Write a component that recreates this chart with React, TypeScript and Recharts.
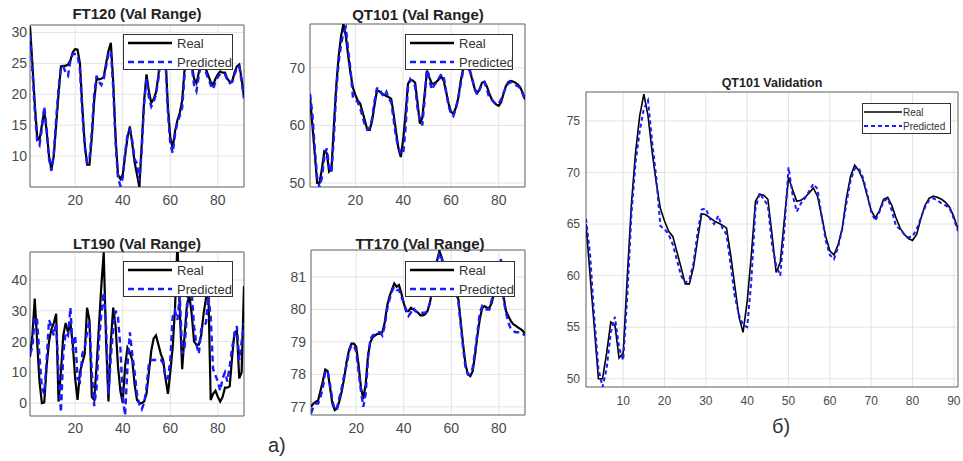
import React from 'react';
import { LineChart, Line, XAxis, YAxis, CartesianGrid, ReferenceArea } from 'recharts';

// sample index 1..91
const steps = Array.from({ length: 91 }, (_, i) => i + 1);

const ft120Real = [
  31, 25, 18.5, 13.2, 12.6, 15, 17.3, 14, 10, 7.8,
  10, 15, 20, 24.5, 24.6, 24.6, 24.8, 25.5, 26.8, 27.3,
  27.2, 25, 18, 12, 8.6, 8.6, 13, 19, 22.5, 22.4,
  22.5, 22.8, 25, 27, 28.3, 22, 13, 7, 6.3, 7,
  10, 13, 14.8, 12, 9, 7, 5, 12, 19, 23.2,
  20.5, 18.6, 19.2, 20.3, 23, 27, 29, 26, 18, 13,
  11.3, 14, 15.8, 17, 19, 24, 27, 27.5, 25, 22.5,
  21.8, 23.5, 25.5, 25, 24, 23, 22, 21.5, 22.5, 23.2,
  23.7, 23.5, 23.5, 22.5, 22, 22, 23.5, 24.5, 24.8, 22.5, 19.5,
];
const ft120Pred = [
  29.5, 24, 17.5, 12.5, 11.8, 14.5, 18, 14.5, 9.5, 7.6,
  10.5, 16, 21, 24.3, 24.5, 23.5, 23, 25.5, 26.5, 26.5,
  26.3, 24, 17, 11.5, 9, 9.5, 14, 20, 23, 22,
  21.5, 22.5, 24.5, 26.5, 27, 21, 12, 6.5, 5.2, 6.5,
  10.5, 13.5, 14.2, 12.5, 9.5, 8.8, 6, 11, 18.5, 22.5,
  19.5, 18, 18.8, 20, 22.5, 26, 28, 25, 17, 12,
  10.5, 13.5, 15.5, 16.5, 17.8, 23, 26.5, 27, 24.5, 21.5,
  20.5, 23, 25, 24.8, 23.5, 22.5, 21.5, 20.8, 22, 22.8,
  23.3, 23.3, 23.2, 22.3, 21.8, 22, 23.2, 24.2, 24.5, 22, 19.3,
];

const qt101Real = [
  65, 60, 55, 50, 50, 52.5, 55.5, 55.2, 52, 52.5,
  60, 67, 72, 75.5, 77.6, 75.5, 72, 69, 66.5, 65.3,
  64.3, 63.8, 62.3, 60.8, 59.2, 59.2, 60.8, 63.5, 66, 65.9,
  65.6, 65.3, 65.1, 64.9, 64.6, 62, 59, 56, 54.5, 57.5,
  62, 67.2, 67.9, 67.8, 67.4, 64, 60.3, 61.3, 65.5, 69.5,
  68.3, 67.2, 67.3, 67.6, 68, 68.5, 67.7, 65.8, 63.8, 62.4,
  62, 63, 64.6, 67.5, 69.6, 70.7, 70.2, 69.3, 67.8, 66.3,
  65.6, 66.3, 67.4, 67.6, 66.8, 65.6, 64.6, 64, 63.6, 63.4,
  64, 65.5, 66.8, 67.5, 67.7, 67.6, 67.4, 67.1, 66.6, 65.7, 64.5,
];
const qt101Pred = [
  65.5, 62, 56, 51, 49.2, 51, 54.5, 56, 53, 51.8,
  58, 66, 71, 74, 76.2, 77, 73, 69.5, 64.8, 64.5,
  64, 63, 61.5, 60, 59.3, 59.6, 61.2, 64.2, 66.4, 66.5,
  65.5, 65, 65.8, 64.6, 64, 61, 58, 56.2, 55.2, 55,
  59.5, 66.5, 68, 67.4, 66.8, 63, 61, 60, 64.5, 70.5,
  67.8, 66.2, 67, 67.5, 68.2, 68.9, 68.4, 65.8, 63.4, 62,
  61.6, 62.8, 64.5, 67, 69.2, 70.4, 70.4, 69.5, 68, 66.2,
  65.3, 66.2, 67.2, 67.5, 66.3, 64.8, 64.5, 64, 63.7, 63.8,
  64.5, 65.6, 66.6, 67.3, 67.5, 67.3, 67, 66.8, 66.5, 65.5, 64.3,
];

const lt190Real = [
  15, 22, 34, 20, 7, 0, 0.2, 12, 20, 24,
  26, 29, 0.5, 10, 22, 26, 23, 26, 19, 8,
  1, 10, 13, 16, 31, 27, 2, 1, 12, 25,
  38, 49, 20, 0.5, 20, 31, 25, 12, 4, 0,
  12, 18, 16.5, 14, 6, 1, 0, 0, 0.5, 3,
  10, 17, 21, 22, 19, 16, 14, 8, 3, 10,
  18, 31, 52, 30, 11, 22, 32, 35, 29, 20,
  19, 19, 22, 29, 34, 37, 1, 3, 4, 2,
  0.5, 2, 5, 5, 5.5, 15, 23, 23.5, 8, 10, 38,
];
const lt190Pred = [
  16, 18, 28, 27, 15, 5, 3, 14, 27, 25,
  22, 26, 10, -3, 16, 23, 22, 31, 17, 22,
  8, 7, 16, 18, 23, 27, 10, -1, 5, 20,
  29, 36, 25, 3, 15, 24, 30, 28, 18, 2,
  -4, 12, 23, 16, 10, 3, -0.5, -2, 0, 5,
  13, 14, 14, 14, 14, 14, 13, 8, 8, 14,
  28, 30, 27, 35, 16, 18, 29, 46, 36, 25,
  19, 16, 24, 25, 26, 35, 28, 11, 9, 7,
  4, 8, 10, 7, 12, 18, 22, 25, 14, 20, 26,
];

const tt170Real = [
  77.0, 77.1, 77.15, 77.2, 77.5, 77.8, 78.15, 78.1, 77.6, 77.1,
  76.9, 76.95, 77.2, 77.5, 77.9, 78.4, 78.75, 78.95, 78.95, 78.85,
  78.3, 77.6, 77.25, 77.7, 78.6, 79.0, 79.15, 79.2, 79.25, 79.25,
  79.3, 79.6, 80.1, 80.4, 80.6, 80.8, 80.7, 80.75, 80.5, 80.2,
  79.95, 79.95, 80.05, 80.0, 79.95, 79.9, 79.82, 79.82, 79.85, 79.95,
  80.2, 80.6, 81.1, 81.5, 81.8, 81.6, 81.3, 81.1, 81.0, 80.9,
  80.8, 80.6, 80.3, 79.6, 78.9, 78.3, 78.0, 77.95, 78.1, 78.6,
  79.2, 79.7, 80.05, 80.1, 80.05, 80.05, 80.2, 80.5, 80.9, 81.3,
  81.5, 80.4, 79.95, 79.8, 79.65, 79.55, 79.5, 79.45, 79.4, 79.35, 79.25,
];
const tt170Pred = [
  76.8, 77.0, 77.1, 77.1, 77.3, 77.6, 78.1, 78.1, 77.7, 77.2,
  76.9, 77.0, 77.3, 77.6, 78.0, 78.3, 78.7, 78.9, 78.9, 78.7,
  78.1, 77.5, 77.0, 77.4, 78.5, 79.1, 79.2, 79.25, 79.3, 79.3,
  79.2, 79.5, 80.0, 80.3, 80.55, 80.7, 80.6, 80.6, 80.4, 80.2,
  80.0, 79.8, 79.9, 80.05, 79.95, 79.9, 79.9, 79.9, 79.9, 79.95,
  80.2, 80.6, 81.0, 81.4, 81.75, 81.55, 81.25, 81.05, 80.95, 80.85,
  80.75, 80.55, 80.2, 79.5, 78.8, 78.2, 78.0, 78.0, 78.2, 78.7,
  79.3, 79.9, 80.1, 80.0, 80.0, 80.0, 80.3, 80.6, 81.0, 81.35,
  81.55, 80.3, 79.9, 79.6, 79.4, 79.35, 79.3, 79.3, 79.3, 79.25, 79.2,
];

const smallXTicks = [20, 40, 60, 80];
const bigXTicks = [10, 20, 30, 40, 50, 60, 70, 80, 90];
const ft120YTicks = [10, 15, 20, 25, 30];
const qt101SmallYTicks = [50, 60, 70];
const lt190YTicks = [0, 10, 20, 30, 40];
const tt170YTicks = [77, 78, 79, 80, 81];
const qt101BigYTicks = [50, 55, 60, 65, 70, 75];

const rows = (real: number[], pred: number[]) =>
  steps.map((x, i) => ({ x, real: real[i], pred: pred[i] }));

const FONT = '"Liberation Sans", Arial, sans-serif';
const TICK = '#4a4a4a';

type PanelProps = {
  left: number; top: number; width: number; height: number;
  mt: number; mr: number; yw: number; xh: number;
  xtm: number; ytm: number; fs: number;
  data: any[]; xTicks: number[]; yTicks: number[]; yDomain: [number, number];
  big?: boolean;
};

const Panel = (p: PanelProps) => (
  <div style={{ position: 'absolute', left: p.left, top: p.top }}>
    <LineChart width={p.width} height={p.height} data={p.data}
      margin={{ top: p.mt, right: p.mr, left: 0, bottom: 0 }}>
      <CartesianGrid stroke="#e3e3e3" />
      <XAxis dataKey="x" type="number" domain={[1, 91]} ticks={p.xTicks} allowDataOverflow
        height={p.xh} tickLine={false} axisLine={false} tickSize={0} tickMargin={p.xtm}
        tick={{ fill: TICK, fontSize: p.fs, fontFamily: FONT }} />
      <YAxis type="number" domain={p.yDomain} ticks={p.yTicks} allowDataOverflow
        width={p.yw} tickLine={false} axisLine={false} tickSize={0} tickMargin={p.ytm}
        tick={{ fill: TICK, fontSize: p.fs, fontFamily: FONT }} />
      <Line dataKey="real" stroke="#000" strokeWidth={p.big ? 1.6 : 2.2} dot={false}
        type="linear" isAnimationActive={false} />
      <Line dataKey="pred" stroke="#1a1aff" strokeWidth={p.big ? 2 : 2.4}
        strokeDasharray={p.big ? '4 3' : '6 4'} dot={false} type="linear" isAnimationActive={false} />
      <ReferenceArea x1={1} x2={91} y1={p.yDomain[0]} y2={p.yDomain[1]} fill="none"
        stroke="#6a6a6a" strokeWidth={1} ifOverflow="visible" />
    </LineChart>
  </div>
);

const Legend = ({ left, top, w, h, fs, line, r1, r2, tx, big }:
  { left: number; top: number; w: number; h: number; fs: number; line: [number, number]; r1: number; r2: number; tx: number; big?: boolean }) => (
  <svg style={{ position: 'absolute', left, top }} width={w} height={h}>
    <rect x={0.5} y={0.5} width={w - 1} height={h - 1} fill="#fff" stroke="#333" strokeWidth={1} />
    <line x1={line[0]} x2={line[1]} y1={r1} y2={r1} stroke="#000" strokeWidth={big ? 1.6 : 2.4} />
    <line x1={line[0]} x2={line[1]} y1={r2} y2={r2} stroke="#1a1aff" strokeWidth={big ? 2 : 2.4}
      strokeDasharray={big ? '4 3' : '6 4'} />
    <text x={tx} y={r1} dy="0.35em" fontSize={fs} fontFamily={FONT} fill="#333">Real</text>
    <text x={tx} y={r2} dy="0.35em" fontSize={fs} fontFamily={FONT} fill="#333">Predicted</text>
  </svg>
);

const Title = ({ cx, cy, fs, text }: { cx: number; cy: number; fs: number; text: string }) => (
  <div style={{
    position: 'absolute', left: cx - 150, top: cy - fs * 0.6, width: 300, textAlign: 'center',
    fontFamily: FONT, fontWeight: 'bold', fontSize: fs, lineHeight: `${fs * 1.2}px`, color: '#222',
  }}>{text}</div>
);

export default function App() {
  return (
    <div style={{ position: 'absolute', left: 0, top: 0, width: 963, height: 461, background: '#fff', overflow: 'hidden' }}>
      <Panel left={0} top={0} width={260} height={215} mt={25} mr={16} yw={30} xh={28}
        xtm={8} ytm={3} fs={14} data={rows(ft120Real, ft120Pred)}
        xTicks={smallXTicks} yTicks={ft120YTicks} yDomain={[5, 31.2]} />
      <Panel left={255} top={0} width={280} height={215} mt={24} mr={10} yw={55} xh={28}
        xtm={8} ytm={5} fs={14} data={rows(qt101Real, qt101Pred)}
        xTicks={smallXTicks} yTicks={qt101SmallYTicks} yDomain={[49.3, 77.6]} />
      <Panel left={0} top={225} width={260} height={236} mt={27} mr={16} yw={30} xh={45}
        xtm={7} ytm={3} fs={14} data={rows(lt190Real, lt190Pred)}
        xTicks={smallXTicks} yTicks={lt190YTicks} yDomain={[-4.2, 49.1]} />
      <Panel left={255} top={225} width={280} height={236} mt={25} mr={10} yw={56} xh={46}
        xtm={8} ytm={5} fs={14} data={rows(tt170Real, tt170Pred)}
        xTicks={smallXTicks} yTicks={tt170YTicks} yDomain={[76.75, 81.83]} />
      <Panel left={545} top={65} width={418} height={396} mt={27} mr={5} yw={41} xh={74}
        xtm={9} ytm={6} fs={12} big data={rows(qt101Real, qt101Pred)}
        xTicks={bigXTicks} yTicks={qt101BigYTicks} yDomain={[49.2, 77.8]} />

      <Title cx={137} cy={14} fs={15} text="FT120 (Val Range)" />
      <Title cx={418} cy={15} fs={15} text="QT101 (Val Range)" />
      <Title cx={137} cy={244} fs={15} text="LT190 (Val Range)" />
      <Title cx={420} cy={244} fs={15} text="TT170 (Val Range)" />
      <Title cx={772} cy={83} fs={12.5} text="QT101 Validation" />

      <Legend left={123} top={34} w={110} h={36} fs={13} line={[5, 49]} r1={9} r2={28} tx={54} />
      <Legend left={405} top={34} w={108} h={36} fs={13} line={[5, 49]} r1={9} r2={28} tx={54} />
      <Legend left={123} top={261} w={110} h={36} fs={13} line={[5, 49]} r1={9} r2={28} tx={54} />
      <Legend left={405} top={261} w={110} h={36} fs={13} line={[5, 49]} r1={9} r2={28} tx={54} />
      <Legend left={862} top={103} w={89} h={31} fs={10} line={[2, 40]} r1={9} r2={23} tx={41} big />

      <div style={{ position: 'absolute', left: 268, top: 434, fontFamily: FONT, fontSize: 20, color: '#333' }}>a)</div>
      <div style={{ position: 'absolute', left: 772, top: 415, fontFamily: FONT, fontSize: 20, color: '#333' }}>б)</div>
    </div>
  );
}
